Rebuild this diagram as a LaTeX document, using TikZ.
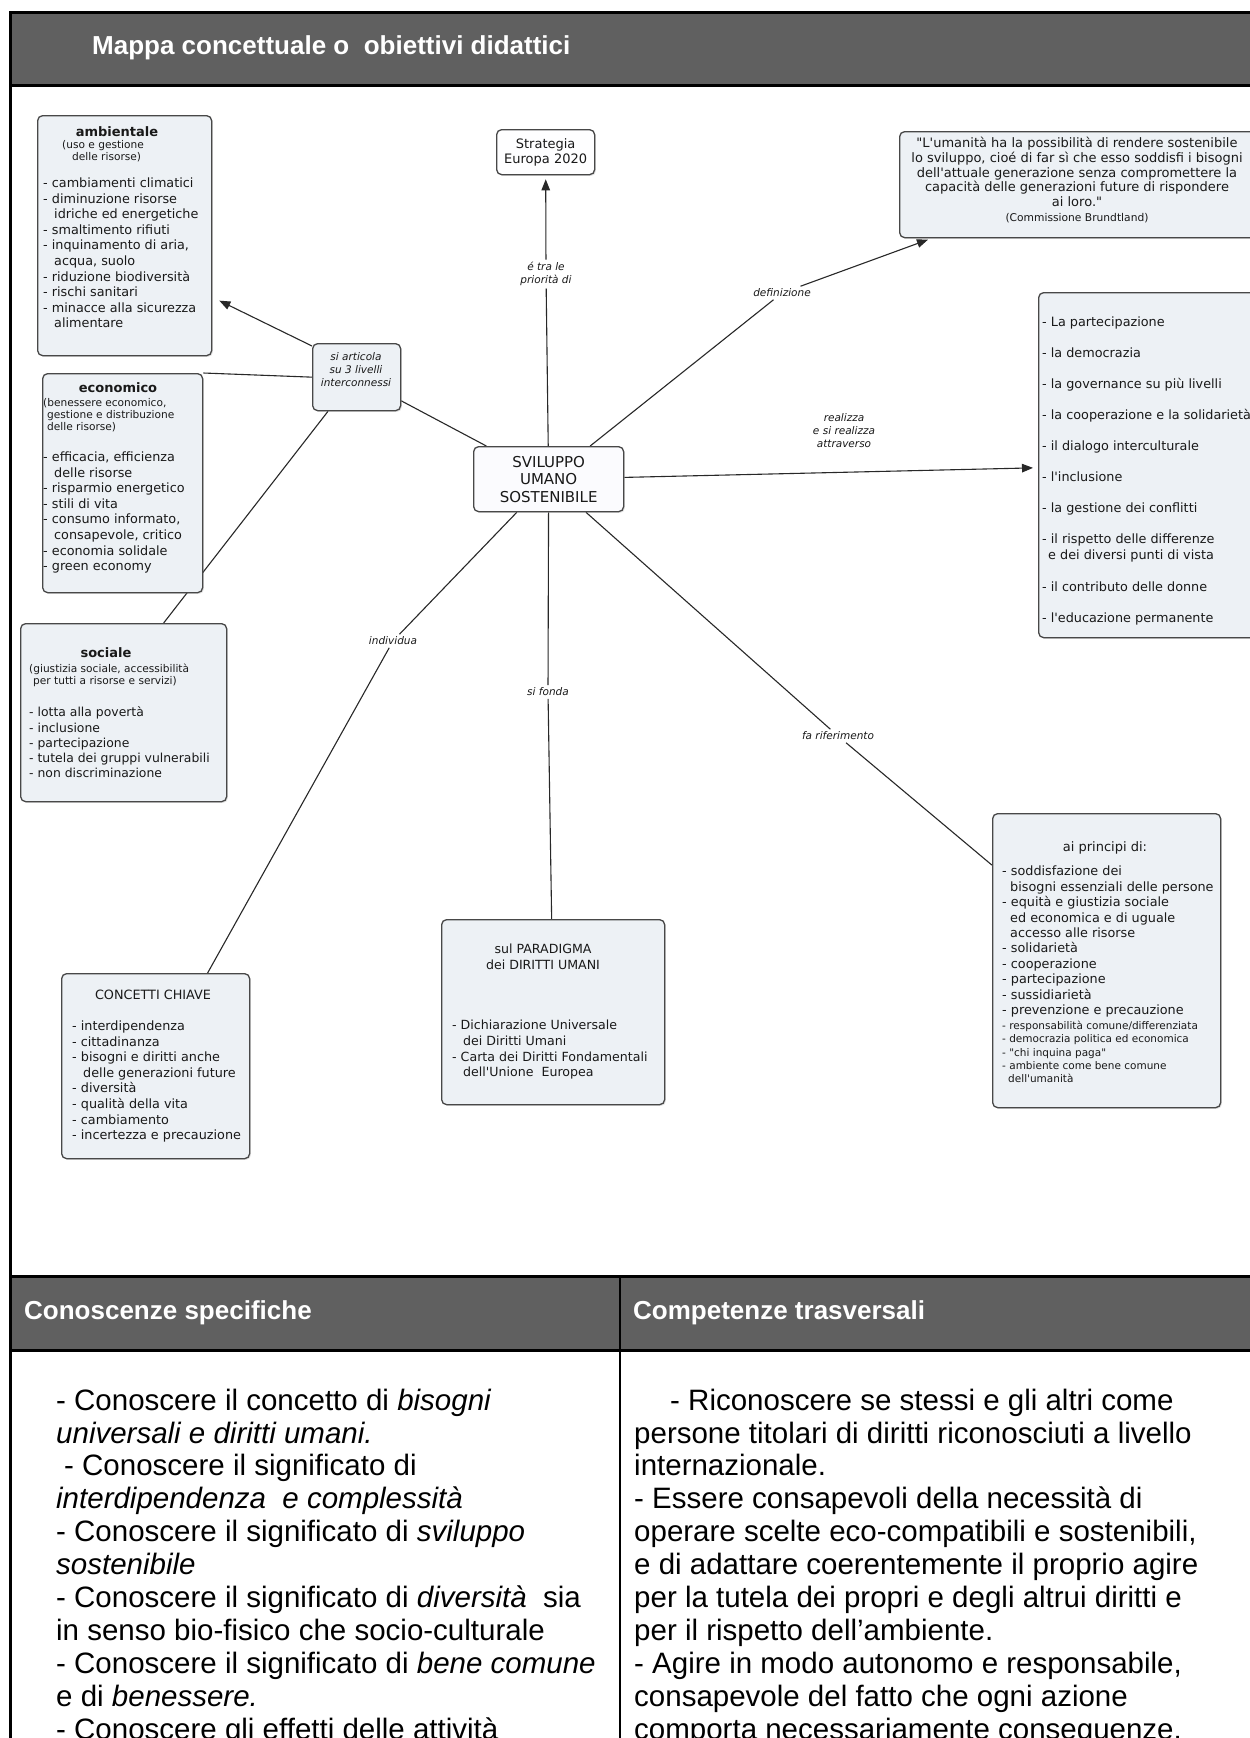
\documentclass[tikz,border=0pt]{standalone}
\usepackage{fontspec}
\setmainfont{Liberation Sans}
\newfontfamily\mapfont{DejaVu Sans}
\usetikzlibrary{arrows.meta,shadows,calc}
\definecolor{band}{RGB}{96,96,96}
\definecolor{boxfill}{RGB}{237,241,245}
\definecolor{boxline}{RGB}{72,72,72}
\definecolor{wire}{RGB}{40,40,40}
\definecolor{ink}{RGB}{25,25,25}
\pgfdeclarelayer{paper}
\pgfdeclarelayer{wires}
\pgfsetlayers{paper,wires,main}
% indentation of a continued list line
\newcommand\cont{\hspace*{11pt}}

\begin{document}
\begin{tikzpicture}[x=1pt,y=-1pt,
  cbox/.style={draw=boxline, line width=1.3pt, rounded corners=5pt, fill=boxfill,
    inner sep=0pt, anchor=north west, text=ink,
    drop shadow={shadow xshift=1.3pt, shadow yshift=-1.3pt, opacity=0.22}},
  hd/.style={font=\mapfont\bfseries\fontsize{13}{15.6}\selectfont, inner sep=0pt, text=ink},
  sub/.style={font=\mapfont\fontsize{10.6}{12}\selectfont, align=left, anchor=north west, inner sep=0pt, text=ink},
  itm/.style={font=\mapfont\fontsize{12.8}{15.6}\selectfont, align=left, anchor=north west, inner sep=0pt, text=ink},
  ctr/.style={font=\mapfont\fontsize{12.8}{15.4}\selectfont, align=center, inner sep=0pt, text=ink},
  lnk/.style={font=\mapfont\itshape\fontsize{10.5}{13}\selectfont, align=center, inner sep=2.5pt, text=ink},
  wireline/.style={draw=wire, line width=1.1pt},
  arr/.style={-{Triangle[length=11pt,width=8.5pt]}, shorten >=4pt},
  body/.style={font=\fontsize{29.5}{32.9}\selectfont, align=left, anchor=north west, inner sep=0pt},
  headtxt/.style={font=\bfseries\fontsize{26}{30}\selectfont, text=white, anchor=west, inner sep=0pt}
]
\useasboundingbox (0,0) rectangle (1250,1738);
\clip (0,0) rectangle (1250,1738);
\begin{pgfonlayer}{paper}
  \fill[white] (0,0) rectangle (1250,1738);
\end{pgfonlayer}

% ---------- table frame ----------
\fill[band] (10,12) rectangle (1256,85);
\fill[band] (10,1276) rectangle (1256,1350);
\draw[line width=3pt] (10,1745) -- (10,12) -- (1256,12);
\draw[line width=3pt] (10,85) -- (1256,85);
\draw[line width=3pt] (10,1276) -- (1256,1276);
\draw[line width=3pt] (10,1350) -- (1256,1350);
\draw[line width=2.2pt] (620,1276) -- (620,1745);

\node[headtxt] (title) at (92,48) {Mappa concettuale o\ \ obiettivi didattici};
\node[headtxt] (hKnow) at (24,1313) {Conoscenze specifiche};
\node[headtxt] (hSkill) at (633,1313) {Competenze trasversali};

% ---------- concept boxes ----------
\node[cbox, minimum width=174pt, minimum height=240pt] (amb) at (37,115) {};
\node[cbox, minimum width=160pt, minimum height=219pt] (eco) at (42,373) {};
\node[cbox, minimum width=206pt, minimum height=178pt] (soc) at (20,623) {};
\node[cbox, minimum width=88pt, minimum height=67pt] (sia) at (312,343) {};
\node[cbox, fill=white!96!boxfill, minimum width=98pt, minimum height=45pt,
      align=center, font=\mapfont\fontsize{13}{15}\selectfont] (str) at (496,129) {Strategia\\Europa 2020};
\node[cbox, fill=boxfill!85!blue!8, minimum width=150pt, minimum height=65pt,
      align=center, font=\mapfont\fontsize{15}{17.5}\selectfont] (sv) at (473,446) {SVILUPPO\\UMANO\\SOSTENIBILE};
\node[cbox, minimum width=357pt, minimum height=106pt] (bru) at (899,131) {};
\node[cbox, minimum width=222pt, minimum height=345pt] (lst) at (1038,292) {};
\node[cbox, minimum width=228pt, minimum height=294pt] (pri) at (992,813) {};
\node[cbox, minimum width=223pt, minimum height=185pt] (par) at (441,919) {};
\node[cbox, minimum width=188pt, minimum height=185pt] (cc) at (61,973) {};

% ---------- box contents ----------
% ambientale
\node[hd] (ambH) at (117,132) {ambientale};
\node[sub] (ambS) at (62,140.5) {(uso e gestione\\\hspace*{10pt}delle risorse)};
\node[itm] (ambL) at (43,177.6) {- cambiamenti climatici\\- diminuzione risorse\\\cont idriche ed energetiche\\- smaltimento rifiuti\\- inquinamento di aria,\\\cont acqua, suolo\\- riduzione biodiversità\\- rischi sanitari\\- minacce alla sicurezza\\\cont alimentare};
% economico
\node[hd] (ecoH) at (118,388) {economico};
\node[sub] (ecoS) at (43,398.6) {(benessere economico,\\\hspace*{4pt}gestione e distribuzione\\\hspace*{4pt}delle risorse)};
\node[itm] (ecoL) at (43,451.6) {- efficacia, efficienza\\\cont delle risorse\\- risparmio energetico\\- stili di vita\\- consumo informato,\\\cont consapevole, critico\\- economia solidale\\- green economy};
% sociale
\node[hd] (socH) at (106,653) {sociale};
\node[sub] (socS) at (29,663.6) {(giustizia sociale, accessibilità\\\hspace*{4pt}per tutti a risorse e servizi)};
\node[itm, font=\mapfont\fontsize{12.4}{15.2}\selectfont] (socL) at (29,706.8) {- lotta alla povertà\\- inclusione\\- partecipazione\\- tutela dei gruppi vulnerabili\\- non discriminazione};
% si articola
\node[lnk, inner sep=0pt] (siaT) at (356,370) {si articola\\su 3 livelli\\interconnessi};
% Brundtland
\node[ctr, font=\mapfont\fontsize{13}{14.7}\selectfont] (bruT) at (1077,180) {"L'umanità ha la possibilità di rendere sostenibile\\lo sviluppo, cioé di far sì che esso soddisfi i bisogni\\dell'attuale generazione senza compromettere la\\capacità delle generazioni future di rispondere\\ai loro."\\{\fontsize{10.7}{14.7}\selectfont (Commissione Brundtland)}};
% list of ways
\node[itm, font=\mapfont\fontsize{12.8}{15.4}\selectfont] (lstT) at (1042,317) {- La partecipazione\\[15.6pt]- la democrazia\\[15.6pt]- la governance su più livelli\\[15.6pt]- la cooperazione e la solidarietà\\[15.6pt]- il dialogo interculturale\\[15.6pt]- l'inclusione\\[15.6pt]- la gestione dei conflitti\\[15.6pt]- il rispetto delle differenze\\\hspace*{6pt}e dei diversi punti di vista\\[17pt]- il contributo delle donne\\[15.6pt]- l'educazione permanente};
% principles
\node[ctr, font=\mapfont\fontsize{13}{15}\selectfont] (priH) at (1105,848) {ai principi di:};
\node[itm, font=\mapfont\fontsize{12.8}{15.4}\selectfont] (priL) at (1002,866) {- soddisfazione dei\\\hspace*{8pt}bisogni essenziali delle persone\\- equità e giustizia sociale\\\hspace*{8pt}ed economica e di uguale\\\hspace*{8pt}accesso alle risorse\\- solidarietà\\- cooperazione\\- partecipazione\\- sussidiarietà\\- prevenzione e precauzione};
\node[itm, font=\mapfont\fontsize{10.5}{13.3}\selectfont] (priS) at (1002,1021) {- responsabilità comune/differenziata\\- democrazia politica ed economica\\- "chi inquina paga"\\- ambiente come bene comune\\\hspace*{6pt}dell'umanità};
% human rights
\node[ctr, font=\mapfont\fontsize{12.6}{16}\selectfont] (parH) at (543,957) {sul PARADIGMA\\dei DIRITTI UMANI};
\node[itm, font=\mapfont\fontsize{12.6}{15.7}\selectfont] (parL) at (452,1020) {- Dichiarazione Universale\\\cont dei Diritti Umani\\- Carta dei Diritti Fondamentali\\\cont dell'Unione\ \ Europea};
% key concepts
\node[ctr] (ccH) at (153,995) {CONCETTI CHIAVE};
\node[itm] (ccL) at (72,1020.6) {- interdipendenza\\- cittadinanza\\- bisogni e diritti anche\\\cont delle generazioni future\\- diversità\\- qualità della vita\\- cambiamento\\- incertezza e precauzione};

% ---------- linking phrases ----------
\node[lnk] (lTra) at (546,274) {é tra le\\priorità di};
\node[lnk] (lDef) at (782,293) {definizione};
\node[lnk] (lRea) at (844,431) {realizza\\e si realizza\\attraverso};
\node[lnk] (lInd) at (393,641) {individua};
\node[lnk] (lFon) at (548,692) {si fonda};
\node[lnk] (lRif) at (838,736) {fa riferimento};

% ---------- connectors ----------
\begin{pgfonlayer}{wires}
  \draw[wireline] (sv) -- (lTra);
  \draw[wireline, arr] (lTra) -- (str);
  \draw[wireline] (sv) -- (lDef);
  \draw[wireline, arr] (lDef) -- (bru);
  \draw[wireline, arr, shorten >=5pt] (sv) -- (lst);
  \draw[wireline] (sv) -- (sia);
  \draw[wireline, -{Triangle[length=11pt,width=8.5pt]}] ($(sia.north west)+(0,3)$) -- ($(amb.east)+(7,65)$);
  \draw[wireline] (sia.west) -- (eco.north east);
  \draw[wireline] ($(sia.south west)+(16,0)$) -- ($(soc.north)+(40,0)$);
  \draw[wireline] (sv) -- (lInd);
  \draw[wireline] (lInd) -- (cc);
  \draw[wireline] (sv) -- (lFon);
  \draw[wireline] (lFon) -- (par);
  \draw[wireline] (sv) -- (lRif);
  \draw[wireline] (lRif) -- (pri);
\end{pgfonlayer}

% ---------- table body ----------
\node[body] (know) at (56,1388.6) {- Conoscere il concetto di \textit{bisogni}\\\textit{universali e diritti umani.}\\\hspace*{8pt}- Conoscere il significato di\\\textit{interdipendenza\ \ e complessità}\\- Conoscere il significato di \textit{sviluppo}\\\textit{sostenibile}\\- Conoscere il significato di \textit{diversità}\ \ sia\\in senso bio-fisico che socio-culturale\\- Conoscere il significato di \textit{bene comune}\\e di \textit{benessere.}\\- Conoscere gli effetti delle attività};
\node[body] (skill) at (634,1388.6) {\hspace*{36pt}- Riconoscere se stessi e gli altri come\\persone titolari di diritti riconosciuti a livello\\internazionale.\\- Essere consapevoli della necessità di\\operare scelte eco-compatibili e sostenibili,\\e di adattare coerentemente il proprio agire\\per la tutela dei propri e degli altrui diritti e\\per il rispetto dell’ambiente.\\- Agire in modo autonomo e responsabile,\\consapevole del fatto che ogni azione\\comporta necessariamente conseguenze.};
\end{tikzpicture}
\end{document}
